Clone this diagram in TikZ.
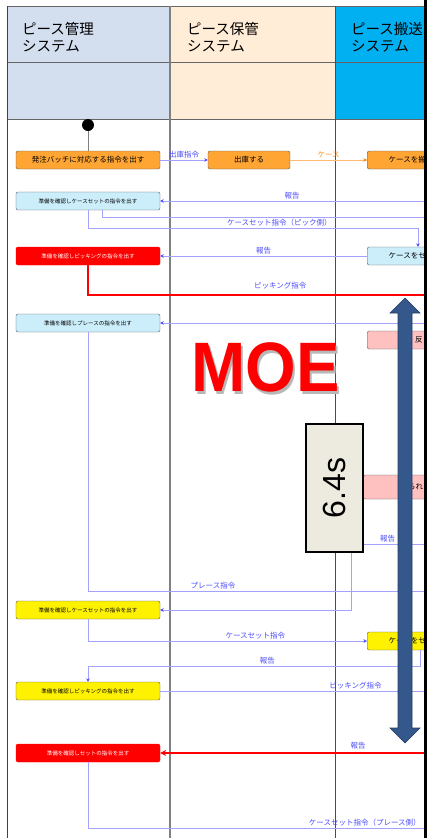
\documentclass[tikz,border=0pt]{standalone}
\usepackage{fontspec}
\usetikzlibrary{positioning, arrows.meta}
\newfontfamily\jpfont{Noto Sans CJK JP}
\newfontfamily\numfont{Liberation Sans}
\definecolor{laneA}{HTML}{D3DEEE}
\definecolor{laneB}{HTML}{FFEDD7}
\definecolor{laneC}{HTML}{00B0F0}
\definecolor{actOrange}{HTML}{FFA533}
\definecolor{actBlue}{HTML}{CCEEFB}
\definecolor{actPink}{HTML}{FFC0C0}
\definecolor{flowLine}{HTML}{A3A3FF}
\definecolor{flowText}{HTML}{4A4AFF}
\definecolor{barBlue}{HTML}{34578C}
\definecolor{timeFill}{HTML}{EDEBE0}
\definecolor{moeShade}{HTML}{B8B8B8}
\tikzset{
    head/.style={anchor=west, align=left, inner sep=0pt, font=\jpfont\fontsize{14.5}{17}\selectfont}, % lane titles
    act/.style={draw=gray!70!black, rounded corners=2pt, minimum width=144pt, minimum height=18pt, inner sep=0pt, font=\jpfont\fontsize{5.5}{6}\selectfont}, % activities
    bigact/.style={act, font=\jpfont\fontsize{7.5}{8}\selectfont},
    cutact/.style={bigact, anchor=west, minimum width=80pt}, % runs off the right edge
    flow/.style={draw=flowLine, line width=0.6pt},
    flowarr/.style={flow, -{Stealth[length=3.5pt, width=3.5pt, color=flowText]}},
    lbl/.style={above, inner sep=1.5pt, text=flowText, font=\jpfont\fontsize{7.5}{8}\selectfont},
    hot/.style={draw=red, line width=2.2pt},
}
\begin{document}
\begin{tikzpicture}[x=1pt, y=-1pt]
    \useasboundingbox (0,0) rectangle (430,838);
    \begin{scope}
    \clip (0,0) rectangle (424,838);
        % Lanes
        \fill[laneA] (7,6) rectangle (170,119);
        \fill[laneB] (170,6) rectangle (335,119);
        \fill[laneC] (335,6) rectangle (424,119);
        \draw[gray!80!black, line width=0.8pt] (7,6) -- (424,6) (7,62) -- (424,62) (7,119) -- (424,119);
        \draw[black!75, line width=0.8pt] (7,6) -- (7,838);
        \draw[gray, line width=1.2pt] (170,6) -- (170,838);
        \draw[black!70, line width=0.6pt] (335,6) -- (335,838);
        \node[head] (laneKanri) at (22,37) {ピース管理\\システム};
        \node[head] (laneHokan) at (187,37) {ピース保管\\システム};
        \node[head] (laneHanso) at (351,37) {ピース搬送\\システム};

        % Activities
        \node[circle, fill=black, inner sep=0pt, minimum size=12pt] (start) at (88,125) {};
        \node[bigact, fill=actOrange] (hatchu) at (88,160) {発注バッチに対応する指令を出す};
        \node[bigact, fill=actOrange, minimum width=82pt] (shukko) at (249,160) {出庫する};
        \node[cutact, fill=actOrange] (hanso) at (367,160) {ケースを搬};
        \node[act, fill=actBlue] (junbiA) at (88,201) {準備を確認しケースセットの指令を出す};
        \node[cutact, fill=actBlue] (casesetA) at (367,256) {ケースをセ};
        \node[act, draw=red, fill=red, text=white] (junbiB) at (88,256) {準備を確認しピッキングの指令を出す};
        \node[act, fill=actBlue] (junbiC) at (88,323) {準備を確認しプレースの指令を出す};
        \node[cutact, fill=actPink, minimum width=60pt, text width=51pt, align=right] (hanei) at (367,340) {反};
        \node[cutact, fill=actPink, minimum width=64pt, minimum height=24pt, text width=56pt, align=right] (kakunin) at (363,487) {られ};
        \node[act, fill=yellow] (junbiD) at (88,610) {準備を確認しケースセットの指令を出す};
        \node[cutact, fill=yellow] (casesetB) at (367,641) {ケースをセ};
        \node[act, fill=yellow] (junbiE) at (88,691) {準備を確認しピッキングの指令を出す};
        \node[act, draw=red, fill=red, text=white] (junbiF) at (88,753) {準備を確認しセットの指令を出す};

        % Free ends on the right edge
        \coordinate (rA) at (424,201);
        \coordinate (rB) at (424,217);
        \coordinate (kA) at (418,228);
        \coordinate (rC) at (424,295);
        \coordinate (rD) at (424,323);
        \coordinate (rE) at (424,591);
        \coordinate (rF) at (424,544);
        \coordinate (kB) at (351,544);
        \coordinate (kC) at (420,666);
        \coordinate (rG) at (424,691);
        \coordinate (rH) at (424,753);
        \coordinate (rI) at (424,828);

        % Flows
        \draw[gray, line width=0.8pt] (start) -- (hatchu);
        \draw[flowarr] (hatchu) -- node[lbl] {出庫指令} (shukko);
        \draw[draw=orange!55, line width=0.6pt, -{Stealth[length=3.5pt, width=3.5pt, color=orange]}] (shukko) -- node[lbl, text=orange!90] {ケース} (hanso);
        \draw[flowarr] (rA) -- node[lbl] {報告} (junbiA);
        \draw[flow] ([xshift=14pt]junbiA.south) |- (rB);
        \draw[flowarr] (junbiA.south) |- node[lbl, pos=0.79] {ケースセット指令（ピック側）} (kA) -- (kA |- casesetA.north);
        \draw[flowarr] (casesetA) -- node[lbl] {報告} (junbiB);
        \draw[hot] (junbiB.south) |- node[lbl, pos=0.786, yshift=3pt] {ピッキング指令} (rC);
        \draw[flowarr] (rD) -- (junbiC);
        \draw[flow] (junbiC.south) |- node[lbl, pos=0.686] {プレース指令} (rE);
        \draw[flowarr] (rF) -- node[lbl] {報告} (kB) |- (junbiD);
        \draw[flowarr] (junbiD.south) |- node[lbl, pos=0.8] {ケースセット指令} (casesetB);
        \draw[flowarr] (casesetB.south -| kC) -- (kC) -| node[lbl, pos=0.23] {報告} (junbiE);
        \draw[flow] (junbiE) -- node[lbl, pos=0.74] {ピッキング指令} (rG);
        \draw[hot, -{Stealth[length=6pt, width=6pt]}] (rH) -- node[lbl, pos=0.25, yshift=1pt] {報告} (junbiF);
        \draw[flow] (junbiF.south) |- node[lbl, pos=0.912] {ケースセット指令（プレース側）} (rI);

        % Overlays
        \node[text=red, font=\numfont\bfseries\fontsize{70}{70}\selectfont, xscale=0.93] (moe) at (265.5,369)
            {\makebox[0pt][l]{\hspace{2.5pt}\raisebox{-2.5pt}{\textcolor{moeShade}{MOE}}}MOE};
        \node[draw=black, line width=1.3pt, fill=timeFill, rotate=90, minimum width=128pt, minimum height=57pt, inner sep=0pt, font=\numfont\fontsize{32}{32}\selectfont] (timeBox) at (334.5,488) {6.4s};
        \filldraw[fill=barBlue, draw=barBlue!70!black, line width=0.6pt]
            (398,313) -- (390,313) -- (405,298) -- (420,313) -- (412,313) -- (412,728)
            -- (420,728) -- (405,743) -- (390,728) -- (398,728) -- cycle;
    \end{scope}
    \draw[black, line width=3pt] (425.5,0) -- (425.5,838);
\end{tikzpicture}
\end{document}
